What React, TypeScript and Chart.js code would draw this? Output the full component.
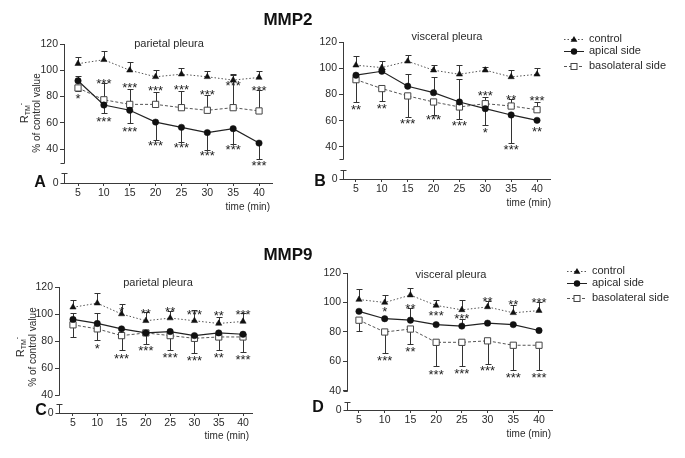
import React, { useEffect, useRef } from "react";
import { Chart, registerables } from "chart.js";

Chart.register(...registerables);
Chart.defaults.font.family = "'Liberation Sans', Arial, sans-serif";

// ---------- data ----------
const times = [5, 10, 15, 20, 25, 30, 35, 40];
const yTickValues = [40, 60, 80, 100, 120];
const seriesNames = ["control", "apical side", "basolateral side"];

// A: MMP2, parietal pleura
const aControl = [105, 108, 100, 95, 97, 95, 92.5, 94.5];
const aControlErr = [5, 7, 6, 5.5, 5, 4.5, 4.5, 5];
const aApical = [92, 73.5, 69.5, 60.5, 56.5, 52.5, 55.5, 44.5];
const aApicalErr = [4, -6, -10, -13.5, -11, -13, -11.5, -12];
const aBasal = [86.5, 77.5, 74, 74, 71.5, 69.5, 71.5, 69];
const aBasalErr = [-2, 12.5, 11.5, 9.5, 13, 12, 25, 16];
const aStarsHi = ["*", "***", "***", "***", "***", "***", "***", "***"];
const aStarsHiY = [81, 92.4, 89, 86.5, 88, 84, 91, 86.5];
const aStarsLo = ["", "***", "***", "***", "***", "***", "***", "***"];
const aStarsLoY = [0, 63, 56, 44.7, 43.4, 37, 41.6, 30];

// B: MMP2, visceral pleura
const bControl = [102.3, 100.5, 105.3, 98.5, 95.4, 98.5, 93.4, 95.4];
const bControlErr = [7, 5, 5, 4, 7, 2.5, 5, 5];
const bApical = [94.7, 97.7, 86.3, 81.4, 74.3, 69.2, 64.4, 60.3];
const bApicalErr = [0, 2, 9, 12, 17.8, -12.7, -21, 0];
const bBasal = [91.3, 84.5, 78.9, 74.3, 70.5, 73, 71.2, 68.4];
const bBasalErr = [-17, -9.7, -15.8, -9.7, -9.4, 5, 5, 6];
const bStarsHi = ["", "", "", "", "", "***", "**", "***"];
const bStarsHiY = [0, 0, 0, 0, 0, 81.2, 78.6, 77.6];
const bStarsLo = ["**", "**", "***", "***", "***", "*", "***", "**"];
const bStarsLoY = [71.2, 71.8, 60.3, 63.4, 58.5, 53.4, 40, 54];

// C: MMP9, parietal pleura
const cControl = [105, 108, 100, 95, 97, 95, 93, 94.5];
const cControlErr = [5.5, 7.5, 7.5, 6.5, 5, 8, 5, 6.5];
const cApical = [96, 93, 89, 86, 87, 84, 86, 85];
const cApicalErr = [5, 8, 0, 0, 0, 0, 0, 0];
const cBasal = [92, 89, 84, 86, 84, 82, 83, 83];
const cBasalErr = [-9, -8, -11, -8, -11, -11, -10, -11];
const cStarsHi = ["", "", "*", "**", "**", "***", "**", "***"];
const cStarsHiY = [0, 0, 104, 102.5, 104, 102, 101, 102];
const cStarsLo = ["", "*", "***", "***", "***", "***", "**", "***"];
const cStarsLoY = [0, 77, 69, 75, 70, 68, 70, 68.5];

// D: MMP9, visceral pleura
const dControl = [102, 100, 105, 98, 95, 97, 93, 94.5];
const dControlErr = [7, 5, 5, 4, 7, 4, 5, 5.5];
const dApical = [94, 89, 88, 85, 84, 86, 85, 81];
const dApicalErr = [0, 0, 8, 0, 5, 0, 0, 0];
const dBasal = [88, 80, 82, 73, 73, 74, 71, 71];
const dBasalErr = [-7, -14, -10, -16, -16, -16, -17, -17];
const dStarsHi = ["", "*", "**", "***", "***", "**", "**", "***"];
const dStarsHiY = [0, 96, 98, 93, 91, 103, 101, 102];
const dStarsLo = ["", "***", "**", "***", "***", "***", "***", "***"];
const dStarsLoY = [0, 63, 69, 53, 54, 56, 51, 51];

// ---------- layout / style ----------
type Panel = {
  letter: string;
  subtitle: string;
  heading?: string;
  box: { left: number; top: number; w: number; h: number };
  pad: { left: number; top: number; right: number; bottom: number };
  xMin: number; xMax: number; yMin: number;
  breakHi: number; breakLo: number;
  control: number[]; controlErr: number[];
  apical: number[]; apicalErr: number[];
  basal: number[]; basalErr: number[];
  starsHi: string[]; starsHiY: number[]; starsLo: string[]; starsLoY: number[];
  pos: {
    title: [number, number]; letter: [number, number]; time: [number, number];
    heading?: [number, number]; ylab?: [number, number]; legend?: [number, number, number];
  };
};

const panels: Panel[] = [
  {
    letter: "A", subtitle: "parietal pleura", heading: "MMP2",
    box: { left: 0, top: 0, w: 330, h: 225 },
    pad: { left: 24, top: 44, right: 58, bottom: 12 },
    xMin: 2.29, xMax: 42.51, yMin: 14.1, breakHi: 29.3, breakLo: 21.7,
    control: aControl, controlErr: aControlErr, apical: aApical, apicalErr: aApicalErr,
    basal: aBasal, basalErr: aBasalErr,
    starsHi: aStarsHi, starsHiY: aStarsHiY, starsLo: aStarsLo, starsLoY: aStarsLoY,
    pos: { title: [169, 44], letter: [40, 183], time: [270, 207], heading: [288, 20], ylab: [37, 113] },
  },
  {
    letter: "B", subtitle: "visceral pleura",
    box: { left: 300, top: 0, w: 385, h: 225 },
    pad: { left: 3, top: 42, right: 135, bottom: 16 },
    xMin: 2.49, xMax: 42.51, yMin: 15.6, breakHi: 30.9, breakLo: 22.5,
    control: bControl, controlErr: bControlErr, apical: bApical, apicalErr: bApicalErr,
    basal: bBasal, basalErr: bBasalErr,
    starsHi: bStarsHi, starsHiY: bStarsHiY, starsLo: bStarsLo, starsLoY: bStarsLoY,
    pos: { title: [447, 37], letter: [320, 182], time: [551, 203], legend: [564, 589, 39] },
  },
  {
    letter: "C", subtitle: "parietal pleura", heading: "MMP9",
    box: { left: 0, top: 230, w: 330, h: 228 },
    pad: { left: 19, top: 57, right: 78, bottom: 15 },
    xMin: 2.12, xMax: 41.85, yMin: 26.7, breakHi: 40, breakLo: 33.3,
    control: cControl, controlErr: cControlErr, apical: cApical, apicalErr: cApicalErr,
    basal: cBasal, basalErr: cBasalErr,
    starsHi: cStarsHi, starsHiY: cStarsHiY, starsLo: cStarsLo, starsLoY: cStarsLoY,
    pos: { title: [158, 283], letter: [41, 411], time: [249, 436], heading: [288, 255], ylab: [33, 347] },
  },
  {
    letter: "D", subtitle: "visceral pleura",
    box: { left: 300, top: 230, w: 385, h: 228 },
    pad: { left: 7, top: 43, right: 133, bottom: 18 },
    xMin: 2.67, xMax: 42.53, yMin: 27.1, breakHi: 40, breakLo: 32.5,
    control: dControl, controlErr: dControlErr, apical: dApical, apicalErr: dApicalErr,
    basal: dBasal, basalErr: dBasalErr,
    starsHi: dStarsHi, starsHiY: dStarsHiY, starsLo: dStarsLo, starsLoY: dStarsLoY,
    pos: { title: [451, 275], letter: [318, 408], time: [551, 434], legend: [567, 592, 271] },
  },
];

const AX = "#3a3a3a";
const TXT = "#2a2a2a";
const FF = "'Liberation Sans', Arial, sans-serif";

function drawMarker(ctx: CanvasRenderingContext2D, kind: number, x: number, y: number) {
  ctx.save();
  ctx.setLineDash([]);
  if (kind === 0) {
    const r = 3.6;
    ctx.fillStyle = "#111";
    ctx.beginPath();
    ctx.moveTo(x, y - r);
    ctx.lineTo(x + r * 0.95, y + r * 0.6);
    ctx.lineTo(x - r * 0.95, y + r * 0.6);
    ctx.closePath();
    ctx.fill();
  } else if (kind === 1) {
    ctx.fillStyle = "#111";
    ctx.beginPath();
    ctx.arc(x, y, 3.2, 0, Math.PI * 2);
    ctx.fill();
  } else {
    ctx.fillStyle = "#fff";
    ctx.strokeStyle = "#444";
    ctx.lineWidth = 1;
    ctx.fillRect(x - 3, y - 3, 6, 6);
    ctx.strokeRect(x - 3, y - 3, 6, 6);
  }
  ctx.restore();
}

const dashes = [[1.5, 2], [], [3, 2]];
const lineColors = ["#555", "#222", "#555"];

function makePlugin(p: Panel) {
  return {
    id: "panel" + p.letter,
    beforeDatasetsDraw(chart: any) {
      const ctx: CanvasRenderingContext2D = chart.ctx;
      const xs = chart.scales.x;
      const ys = chart.scales.y;
      const sets: [number[], number[]][] = [
        [p.control, p.controlErr],
        [p.apical, p.apicalErr],
        [p.basal, p.basalErr],
      ];
      ctx.save();
      ctx.strokeStyle = "#333";
      ctx.lineWidth = 1;
      sets.forEach(([vals, errs]) => {
        vals.forEach((v, i) => {
          const e = errs[i];
          if (!e) return;
          const px = Math.round(xs.getPixelForValue(times[i])) + 0.5;
          const y0 = ys.getPixelForValue(v);
          const y1 = Math.round(ys.getPixelForValue(v + e)) + 0.5;
          ctx.beginPath();
          ctx.moveTo(px, y0);
          ctx.lineTo(px, y1);
          ctx.moveTo(px - 3, y1);
          ctx.lineTo(px + 3, y1);
          ctx.stroke();
        });
      });
      ctx.restore();
    },
    afterDraw(chart: any) {
      const ctx: CanvasRenderingContext2D = chart.ctx;
      const xs = chart.scales.x;
      const ys = chart.scales.y;
      const area = chart.chartArea;
      const ax = Math.round(area.left) + 0.5;
      ctx.save();
      // broken y axis
      ctx.strokeStyle = AX;
      ctx.lineWidth = 1;
      const yHi = Math.round(ys.getPixelForValue(p.breakHi)) + 0.5;
      const yLo = Math.round(ys.getPixelForValue(p.breakLo)) + 0.5;
      const yBot = Math.round(area.bottom) + 0.5;
      ctx.beginPath();
      ctx.moveTo(ax, area.top);
      ctx.lineTo(ax, yHi);
      ctx.moveTo(ax - 4, yHi);
      ctx.lineTo(ax, yHi);
      ctx.moveTo(ax, yLo);
      ctx.lineTo(ax, yBot);
      ctx.moveTo(ax - 3, yLo);
      ctx.lineTo(ax + 3, yLo);
      ctx.moveTo(ax - 4, yBot);
      ctx.lineTo(ax, yBot);
      ctx.stroke();
      ctx.fillStyle = TXT;
      ctx.font = `10.5px ${FF}`;
      ctx.textAlign = "right";
      ctx.textBaseline = "middle";
      ctx.fillText("0", ax - 6, yBot);

      // asterisks
      ctx.font = `13px ${FF}`;
      ctx.textAlign = "center";
      ctx.textBaseline = "alphabetic";
      ctx.fillStyle = "#222";
      const stars = (labels: string[], ys2: number[]) => {
        labels.forEach((s, i) => {
          if (!s) return;
          const px = xs.getPixelForValue(times[i]);
          const py = ys.getPixelForValue(ys2[i]);
          ctx.fillText(s, px, py + 7.5);
        });
      };
      stars(p.starsHi, p.starsHiY);
      stars(p.starsLo, p.starsLoY);

      // page-coordinate texts
      ctx.translate(-p.box.left, -p.box.top);
      ctx.fillStyle = TXT;
      ctx.textBaseline = "middle";
      ctx.textAlign = "center";
      ctx.font = `11px ${FF}`;
      ctx.fillText(p.subtitle, p.pos.title[0], p.pos.title[1]);
      ctx.textAlign = "right";
      ctx.font = `10px ${FF}`;
      ctx.fillText("time (min)", p.pos.time[0], p.pos.time[1]);
      ctx.fillStyle = "#111";
      ctx.textAlign = "center";
      ctx.font = `bold 16px ${FF}`;
      ctx.fillText(p.letter, p.pos.letter[0], p.pos.letter[1]);
      if (p.heading && p.pos.heading) {
        ctx.font = `bold 17px ${FF}`;
        ctx.fillText(p.heading, p.pos.heading[0], p.pos.heading[1]);
      }
      if (p.pos.ylab) {
        const [lx, ly] = p.pos.ylab;
        ctx.save();
        ctx.fillStyle = TXT;
        ctx.translate(lx, ly);
        ctx.rotate(-Math.PI / 2);
        ctx.textAlign = "center";
        ctx.textBaseline = "middle";
        ctx.font = `10px ${FF}`;
        ctx.fillText("% of control value", 0, 0);
        // R_TM^-
        ctx.textAlign = "left";
        ctx.textBaseline = "alphabetic";
        ctx.font = `11px ${FF}`;
        const wR = ctx.measureText("R").width;
        ctx.font = `7px ${FF}`;
        const wT = ctx.measureText("TM").width;
        const wM = ctx.measureText("-").width;
        const tot = wR + wT + wM;
        const bx = -tot / 2;
        const by = -13 + 4;
        ctx.font = `11px ${FF}`;
        ctx.fillText("R", bx, by);
        ctx.font = `7px ${FF}`;
        ctx.fillText("TM", bx + wR, by + 2);
        ctx.fillText("-", bx + wR + wT, by - 5);
        ctx.restore();
      }
      if (p.pos.legend) {
        const [sx, tx, y0] = p.pos.legend;
        const rows = [y0, y0 + 12, y0 + 27];
        seriesNames.forEach((name, k) => {
          const y = rows[k] + 0.5;
          ctx.save();
          ctx.strokeStyle = lineColors[k];
          ctx.lineWidth = 1;
          ctx.setLineDash(dashes[k]);
          ctx.beginPath();
          ctx.moveTo(sx, y);
          ctx.lineTo(sx + 20, y);
          ctx.stroke();
          ctx.restore();
          drawMarker(ctx, k, sx + 10, y);
          ctx.fillStyle = TXT;
          ctx.font = `11px ${FF}`;
          ctx.textAlign = "left";
          ctx.textBaseline = "middle";
          ctx.fillText(name, tx, rows[k]);
        });
      }
      ctx.restore();
    },
  };
}

function pts(vals: number[]) {
  return vals.map((v, i) => ({ x: times[i], y: v }));
}

function PanelChart({ p }: { p: Panel }) {
  const ref = useRef<HTMLCanvasElement>(null);
  useEffect(() => {
    if (!ref.current) return;
    const chart = new Chart(ref.current, {
      type: "line",
      data: {
        datasets: [
          {
            label: seriesNames[0], data: pts(p.control),
            borderColor: lineColors[0], borderWidth: 1, borderDash: dashes[0],
            pointStyle: "triangle", pointRadius: 3.6, pointBackgroundColor: "#111",
            pointBorderColor: "#111", pointBorderWidth: 0.5, tension: 0, fill: false, clip: false,
          },
          {
            label: seriesNames[1], data: pts(p.apical),
            borderColor: lineColors[1], borderWidth: 1.2,
            pointStyle: "circle", pointRadius: 3.2, pointBackgroundColor: "#111",
            pointBorderColor: "#111", pointBorderWidth: 0.5, tension: 0, fill: false, clip: false,
          },
          {
            label: seriesNames[2], data: pts(p.basal),
            borderColor: lineColors[2], borderWidth: 1, borderDash: dashes[2],
            pointStyle: "rect", pointRadius: 4.4, pointBackgroundColor: "#fff",
            pointBorderColor: "#444", pointBorderWidth: 1, tension: 0, fill: false, clip: false,
          },
        ] as any,
      },
      options: {
        responsive: false,
        animation: false,
        events: [],
        layout: { padding: p.pad },
        plugins: { legend: { display: false }, title: { display: false }, tooltip: { enabled: false } },
        scales: {
          x: {
            type: "linear", min: p.xMin, max: p.xMax,
            afterBuildTicks: (s: any) => { s.ticks = times.map((v) => ({ value: v })); },
            afterFit: (s: any) => { s.height = 30; },
            grid: { drawOnChartArea: false, drawTicks: true, tickLength: 3, color: AX },
            border: { display: true, color: AX, width: 1 },
            ticks: { color: TXT, font: { size: 10.5 }, padding: 1, autoSkip: false, maxRotation: 0 },
          },
          y: {
            type: "linear", min: p.yMin, max: 120,
            afterBuildTicks: (s: any) => { s.ticks = yTickValues.map((v) => ({ value: v })); },
            afterFit: (s: any) => { s.width = 40; },
            grid: { drawOnChartArea: false, drawTicks: true, tickLength: 4, color: AX },
            border: { display: false },
            ticks: { color: TXT, font: { size: 10.5 }, padding: 2 },
          },
        },
      } as any,
      plugins: [makePlugin(p)],
    });
    return () => chart.destroy();
  }, [p]);
  return (
    <canvas
      ref={ref}
      width={p.box.w}
      height={p.box.h}
      style={{ position: "absolute", left: p.box.left, top: p.box.top, width: p.box.w, height: p.box.h }}
    />
  );
}

export default function App() {
  return (
    <div style={{ position: "absolute", left: 0, top: 0, width: 685, height: 458, background: "#fff", overflow: "hidden" }}>
      {panels.map((p) => (
        <PanelChart key={p.letter} p={p} />
      ))}
    </div>
  );
}
